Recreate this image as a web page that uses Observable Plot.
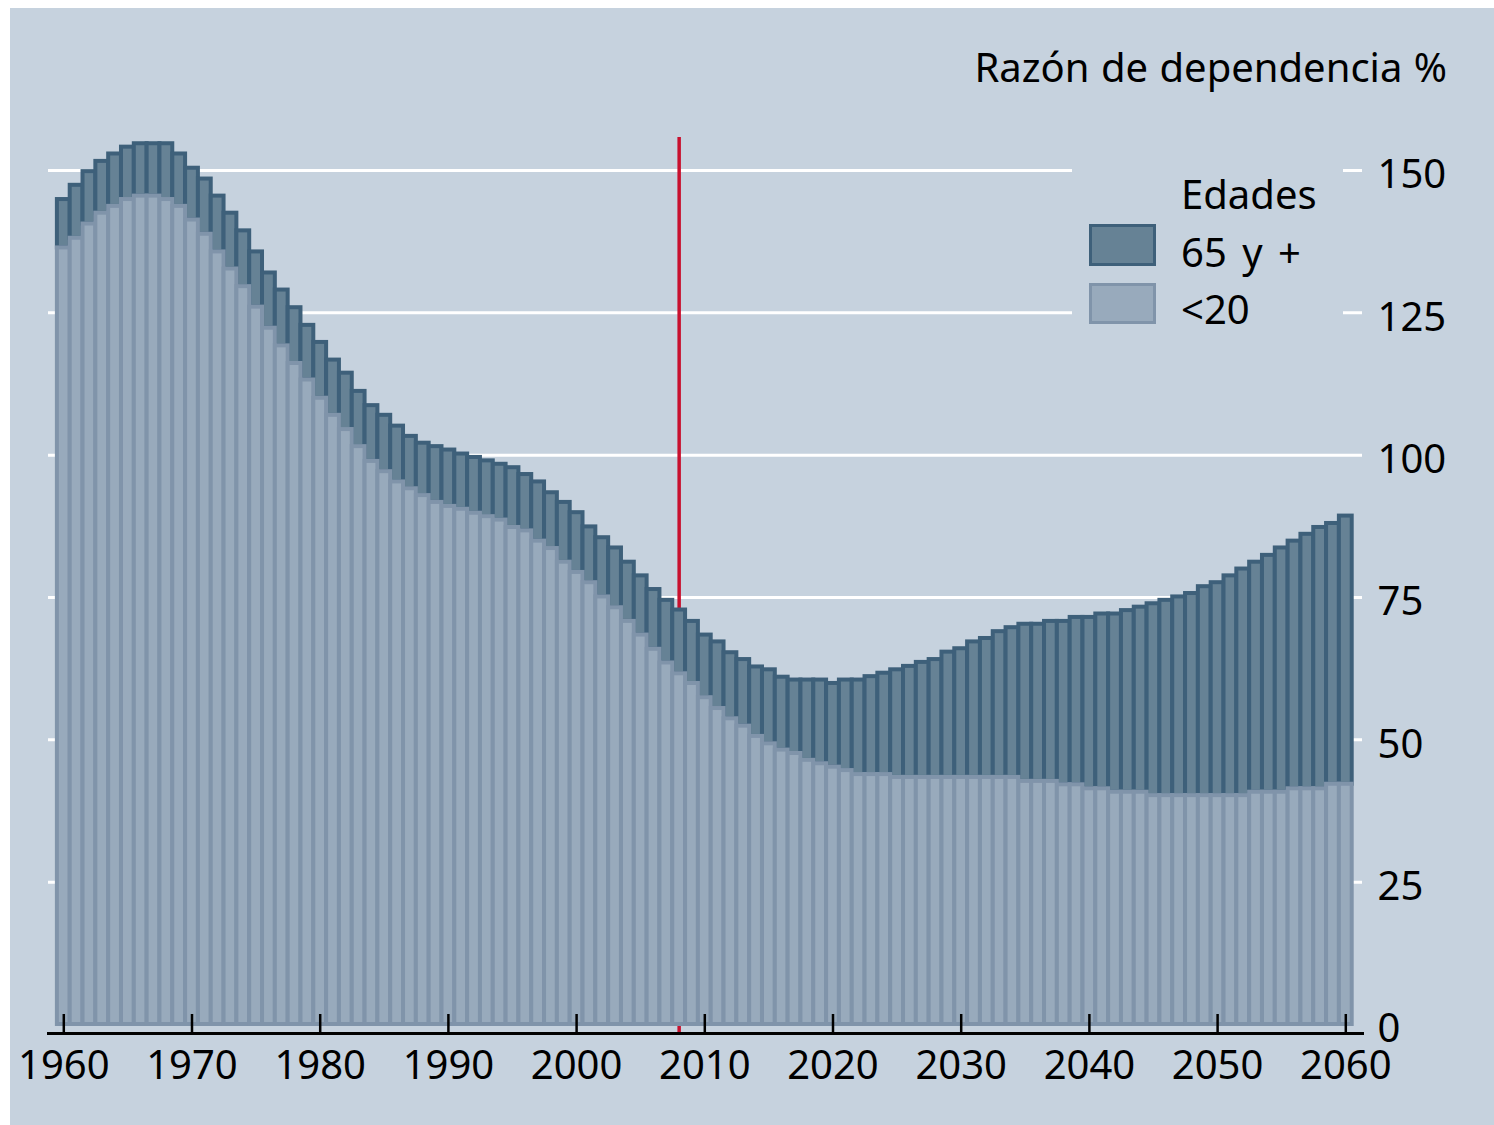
<!DOCTYPE html>
<html><head><meta charset="utf-8">
<script src="https://cdn.jsdelivr.net/npm/d3@7"></script>
<script src="https://cdn.jsdelivr.net/npm/@observablehq/plot@0.6"></script>
<style>
html,body{margin:0;padding:0;background:#fff;}
#wrap{position:relative;width:1494px;height:1125px;overflow:hidden;font-family:"Noto Sans",sans-serif;}
#bg{position:absolute;left:10px;top:8px;right:0;bottom:0;background:#c6d2de;}
#chart{position:absolute;left:0;top:0;}
.t{position:absolute;font-size:40px;line-height:40px;color:#000;white-space:nowrap;}
#legend{position:absolute;left:1072px;top:150px;width:271px;height:190px;background:#c6d2de;}
.sw{position:absolute;left:17px;width:67px;box-sizing:border-box;border:3px solid;}
</style></head>
<body><div id="wrap"><div id="bg"></div><div id="chart"></div>
<div class="t" style="right:47px;top:47px;word-spacing:1px">Razón de dependencia %</div>
<div id="legend">
  <div class="t" style="left:109px;top:24px">Edades</div>
  <div class="sw" style="top:74px;height:42px;border-color:#3e607a;background:#668295"></div>
  <div class="t" style="left:109px;top:82px;word-spacing:5px">65 y +</div>
  <div class="sw" style="top:133px;height:41px;border-color:#8094aa;background:#98aabc"></div>
  <div class="t" style="left:109px;top:139px">&lt;20</div>
</div>
</div>
<script>
const years = d3.range(1960, 2061);
const under20 = [
136.4,138.1,140.6,142.5,143.7,144.9,145.5,145.5,144.9,143.7,
141.3,138.8,135.7,132.7,129.6,126.0,122.3,119.2,116.1,113.2,
110.0,107.0,104.5,101.5,98.9,97.1,95.3,94.1,92.9,91.7,
91.0,90.5,89.8,89.2,88.6,87.3,86.7,84.9,83.6,81.2,
79.4,77.6,75.1,73.2,70.8,68.4,65.9,63.5,61.6,59.9,
57.4,55.5,53.7,52.4,50.6,49.3,48.2,47.6,46.4,45.8,
45.2,44.6,43.9,43.9,43.9,43.4,43.4,43.4,43.4,43.4,
43.4,43.4,43.4,43.4,43.4,42.7,42.7,42.7,42.1,42.1,
41.4,41.4,40.8,40.8,40.8,40.2,40.2,40.2,40.2,40.2,
40.2,40.2,40.2,40.8,40.8,40.8,41.4,41.4,41.4,42.2,
42.2];
const over65 = [
8.5,9.3,9.2,9.1,9.2,9.2,9.2,9.2,9.8,9.2,
9.1,9.7,9.8,9.8,9.8,9.7,9.7,9.8,9.8,9.6,
9.8,9.7,9.9,9.7,9.8,9.9,9.8,9.2,9.2,9.8,
9.9,9.7,9.8,9.8,9.8,10.5,9.9,10.4,9.8,10.5,
10.5,9.8,10.4,10.5,10.4,10.4,10.5,11.0,11.2,10.9,
11.0,11.7,11.6,11.7,12.2,13.0,12.8,12.9,14.1,14.7,
14.7,15.9,16.6,17.2,17.8,18.9,19.5,20.2,20.7,22.0,
22.6,23.8,24.4,25.6,26.3,27.6,27.6,28.1,28.7,29.4,
30.1,30.7,31.3,31.9,32.5,33.7,34.3,34.9,35.5,36.7,
37.4,38.6,39.8,40.4,41.6,42.9,43.5,44.7,45.9,45.8,
47.1];
const xTicks = d3.range(1960, 2061, 10);
const yTicks = [0, 25, 50, 75, 100, 125, 150];
const gridTicks = [25, 50, 75, 100, 125, 150];
const markerYear = 2008;

const rows = years.map((year, i) => ({year, u: under20[i], o: over65[i]}));

const W = 1494, H = 1125;
const mTop = 137, mBottom = 92, mLeft = 48, mRight = 132;
const frameH = H - mTop - mBottom;

const chart = Plot.plot({
  width: W, height: H,
  marginTop: mTop, marginBottom: mBottom, marginLeft: mLeft, marginRight: mRight,
  style: {background: "transparent", fontFamily: "Noto Sans", fontSize: "40px", color: "#000", overflow: "visible"},
  x: {type: "linear", domain: [1960, 2060], insetLeft: 15.3, insetRight: 16.7},
  y: {domain: [0, 150], insetTop: 33, insetBottom: 9},
  marks: [
    Plot.ruleY(gridTicks, {stroke: "#ffffff", strokeWidth: 3}),
    Plot.ruleX([markerYear], {stroke: "#c8102e", strokeWidth: 3.5}),
    Plot.rectY(rows, {x1: d => d.year - 0.5, x2: d => d.year + 0.5, y1: d => d.u, y2: d => d.u + d.o,
      fill: "#668295", stroke: "#3e607a", strokeWidth: 4}),
    Plot.rectY(rows, {x1: d => d.year - 0.5, x2: d => d.year + 0.5, y1: 0, y2: d => d.u,
      fill: "#98aabc", stroke: "#8094aa", strokeWidth: 4}),
    Plot.frame({anchor: "bottom", stroke: "#000", strokeWidth: 3}),
    Plot.ruleX(xTicks, {insetTop: frameH - 19, stroke: "#000", strokeWidth: 2.5}),
    Plot.axisX({ticks: xTicks, tickSize: 0, tickPadding: 17, tickFormat: d => String(d), fontSize: 40, label: null}),
    Plot.axisY({anchor: "right", ticks: yTicks, tickSize: 0, tickPadding: 15, fontSize: 40, label: null, dy: 5, textAnchor: "start"})
  ]
});
document.getElementById("chart").appendChild(chart);
</script>
</body></html>
